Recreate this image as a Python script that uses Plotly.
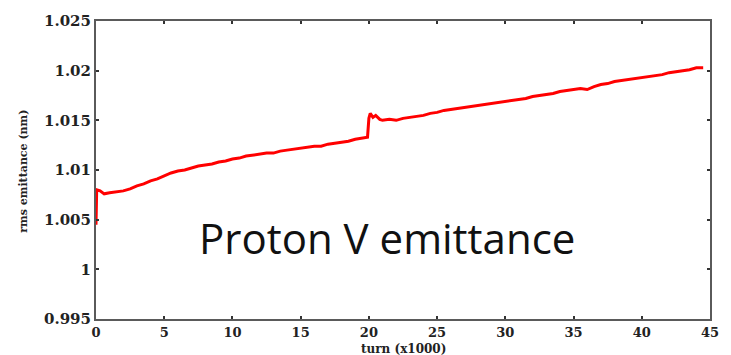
import plotly.graph_objects as go

# Turn number (in thousands) and rms vertical emittance of the proton beam (nm)
turns = [
    0.0, 0.05, 0.3, 0.6, 1.0, 1.5, 2.0, 2.5, 3.0, 3.5, 4.0, 4.5, 5.0, 5.5, 6.0, 6.5,
    7.0, 7.5, 8.0, 8.5, 9.0, 9.5, 10.0, 10.5, 11.0, 11.5, 12.0, 12.5, 13.0, 13.5,
    14.0, 14.5, 15.0, 15.5, 16.0, 16.5, 17.0, 17.5, 18.0, 18.5, 19.0, 19.5, 19.9,
    20.0, 20.1, 20.3, 20.5, 20.8, 21.0, 21.5, 22.0, 22.5, 23.0, 23.5, 24.0, 24.5,
    25.0, 25.5, 26.0, 26.5, 27.0, 27.5, 28.0, 28.5, 29.0, 29.5, 30.0, 30.5, 31.0,
    31.5, 32.0, 32.5, 33.0, 33.5, 34.0, 34.5, 35.0, 35.5, 36.0, 36.5, 37.0, 37.5,
    38.0, 38.5, 39.0, 39.5, 40.0, 40.5, 41.0, 41.5, 42.0, 42.5, 43.0, 43.5, 44.0,
    44.5,
]
emittance = [
    1.0045, 1.0080, 1.0079, 1.0076, 1.0077, 1.0078, 1.0079, 1.0081, 1.0084, 1.0086,
    1.0089, 1.0091, 1.0094, 1.0097, 1.0099, 1.0100, 1.0102, 1.0104, 1.0105, 1.0106,
    1.0108, 1.0109, 1.0111, 1.0112, 1.0114, 1.0115, 1.0116, 1.0117, 1.0117, 1.0119,
    1.0120, 1.0121, 1.0122, 1.0123, 1.0124, 1.0124, 1.0126, 1.0127, 1.0128, 1.0129,
    1.0131, 1.0132, 1.0133,
    1.0152, 1.0157, 1.0153, 1.0155, 1.0151, 1.0150, 1.0151, 1.0150, 1.0152, 1.0153,
    1.0154, 1.0155, 1.0157, 1.0158, 1.0160, 1.0161, 1.0162, 1.0163, 1.0164, 1.0165,
    1.0166, 1.0167, 1.0168, 1.0169, 1.0170, 1.0171, 1.0172, 1.0174, 1.0175, 1.0176,
    1.0177, 1.0179, 1.0180, 1.0181, 1.0182, 1.0181, 1.0184, 1.0186, 1.0187, 1.0189,
    1.0190, 1.0191, 1.0192, 1.0193, 1.0194, 1.0195, 1.0196, 1.0198, 1.0199, 1.0200,
    1.0201, 1.0203, 1.0203,
]

x_ticks = [0, 5, 10, 15, 20, 25, 30, 35, 40, 45]
y_ticks = [0.995, 1.0, 1.005, 1.01, 1.015, 1.02, 1.025]
y_tick_text = ["0.995", "1", "1.005", "1.01", "1.015", "1.02", "1.025"]

frame_color = "#5a5a5a"

fig = go.Figure()
fig.add_trace(go.Scatter(
    x=turns, y=emittance, mode="lines",
    line=dict(color="#ff0000", width=3),
    showlegend=False,
))

fig.update_xaxes(
    range=[0, 45], tickvals=x_ticks, ticktext=[f"<b>{t}</b>" for t in x_ticks],
    showline=True, linecolor=frame_color, linewidth=2, mirror="ticks",
    ticks="inside", ticklen=3, tickwidth=2, tickcolor="#333333",
    showgrid=False, zeroline=False,
    tickfont=dict(family="DejaVu Serif", size=13, color="#222222"),
)
fig.update_yaxes(
    range=[0.995, 1.025], tickvals=y_ticks, ticktext=[f"<b>{t}</b>" for t in y_tick_text],
    showline=True, linecolor=frame_color, linewidth=2, mirror="ticks",
    ticks="inside", ticklen=3, tickwidth=2, tickcolor="#333333",
    showgrid=False, zeroline=False,
    tickfont=dict(family="DejaVu Serif", size=15, color="#222222"),
)

fig.add_annotation(
    text="<b>turn (x1000)</b>", xref="paper", yref="paper",
    x=0.5, y=-0.1, xanchor="center", yanchor="middle", showarrow=False,
    font=dict(family="DejaVu Serif", size=12, color="#222222"),
)
fig.add_annotation(
    text="<b>rms emittance (nm)</b>", xref="paper", yref="paper",
    x=-0.1176, y=0.497, xanchor="center", yanchor="middle", showarrow=False,
    textangle=-90, font=dict(family="DejaVu Serif", size=11, color="#222222"),
)
fig.add_annotation(
    text="Proton V emittance", xref="paper", yref="paper",
    x=0.474, y=0.275, xanchor="center", yanchor="middle", showarrow=False,
    font=dict(family="Open Sans", size=42, color="#111111"),
)

fig.update_layout(
    width=731, height=355,
    margin=dict(l=96, r=14, t=15, b=36),
    paper_bgcolor="white", plot_bgcolor="white",
)

fig.write_html("out.html")
